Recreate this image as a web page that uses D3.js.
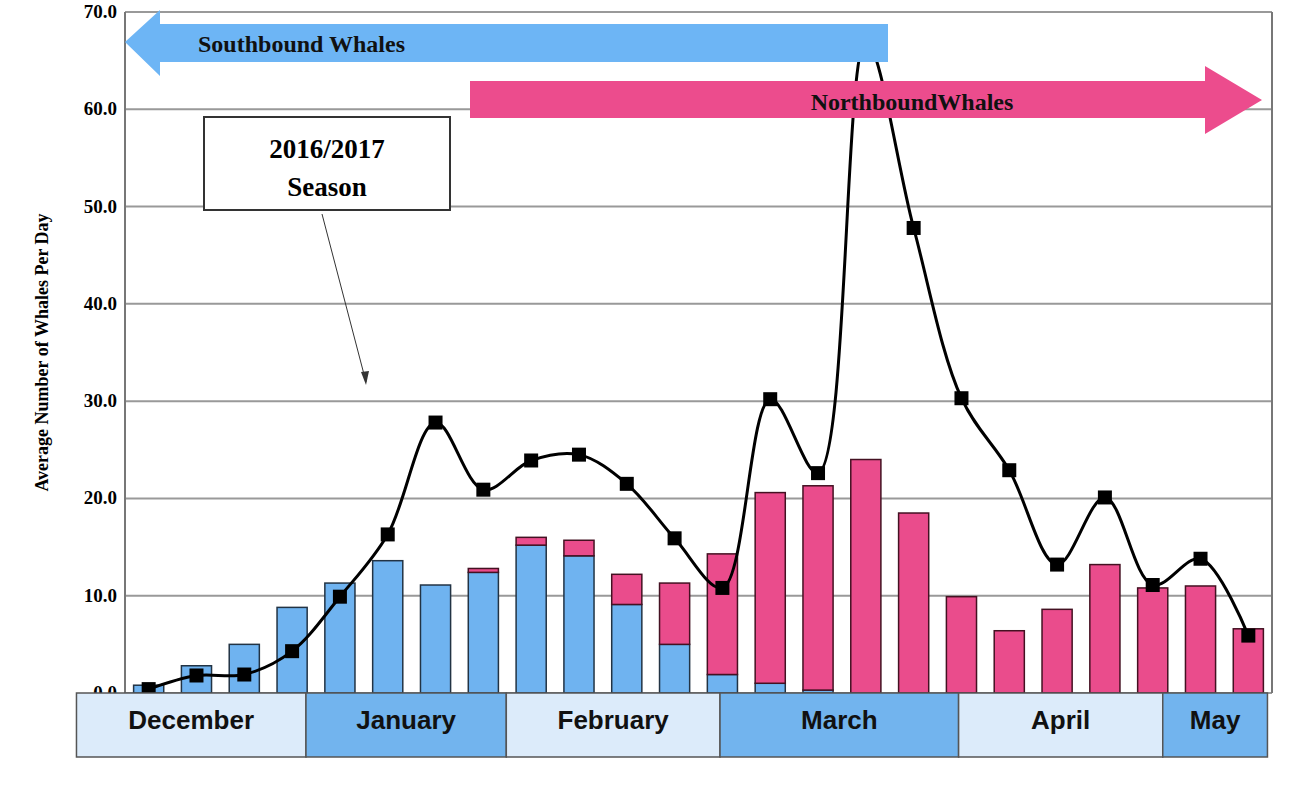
<!DOCTYPE html>
<html><head><meta charset="utf-8">
<script src="https://cdn.jsdelivr.net/npm/d3@7"></script>
<style>body{margin:0;background:#fff}</style>
</head><body>
<svg id="chart" width="1310" height="788"></svg>
<script>
// values
var southbound = [0.8, 2.8, 5.0, 8.8, 11.3, 13.6, 11.1, 12.4, 15.2, 14.1, 9.1, 5.0, 1.9, 1.0, 0.3, 0, 0, 0, 0, 0, 0, 0, 0, 0];
var northbound = [0, 0, 0, 0, 0, 0, 0, 0.4, 0.8, 1.6, 3.1, 6.3, 12.4, 19.6, 21.0, 24.0, 18.5, 9.9, 6.4, 8.6, 13.2, 10.8, 11.0, 6.6];
var season = [0.4, 1.8, 1.9, 4.3, 9.9, 16.3, 27.8, 20.9, 23.9, 24.5, 21.5, 15.9, 10.8, 30.2, 22.6, 67.0, 47.8, 30.3, 22.9, 13.2, 20.1, 11.1, 13.8, 5.9];
var months = ["December", "January", "February", "March", "April", "May"];
// month boundaries in bar-index units (bar centre = index)
var monthEdges = [-1.51, 3.29, 7.48, 11.95, 16.94, 21.21, 23.4];
var yTicks = [0, 10, 20, 30, 40, 50, 60, 70];

var svg = d3.select("#chart");
var pLeft = 125, pRight = 1272, pTop = 12, pBottom = 693;

var x = d3.scaleBand().domain(d3.range(season.length)).range([pLeft, pRight]).paddingInner(0.37).paddingOuter(0.18);
var y = d3.scaleLinear().domain([0, 70]).range([pBottom, pTop]);
var cx = i => x(i) + x.bandwidth() / 2;
var xm = d => cx(0) + d * x.step();

// grid
svg.append("g").selectAll("line").data(yTicks).join("line")
  .attr("x1", pLeft).attr("x2", pRight).attr("y1", d => y(d)).attr("y2", d => y(d))
  .attr("stroke", "#999").attr("stroke-width", 2);
svg.append("line").attr("x1", pLeft).attr("x2", pLeft).attr("y1", pTop).attr("y2", pBottom).attr("stroke", "#777").attr("stroke-width", 2);
svg.append("line").attr("x1", pRight).attr("x2", pRight).attr("y1", pTop).attr("y2", pBottom).attr("stroke", "#777").attr("stroke-width", 2);

svg.append("g").selectAll("text").data(yTicks).join("text")
  .attr("x", pLeft - 8).attr("y", d => y(d) + 6).attr("text-anchor", "end")
  .attr("font-family", "Liberation Serif").attr("font-weight", "bold").attr("font-size", 19)
  .text(d => d.toFixed(1));

svg.append("text").attr("transform", "translate(48," + (y(35)) + ") rotate(-90)")
  .attr("text-anchor", "middle").attr("font-family", "Liberation Serif").attr("font-weight", "bold").attr("font-size", 18)
  .text("Average Number of Whales Per Day");

// bars
var bars = svg.append("g");
bars.selectAll("rect.s").data(southbound).join("rect").attr("class", "s")
  .attr("x", (d, i) => x(i)).attr("width", x.bandwidth())
  .attr("y", d => y(d)).attr("height", d => pBottom - y(d))
  .attr("fill", "#6fb3f0").attr("stroke", "#234").attr("stroke-width", d => d > 0 ? 1.5 : 0);
bars.selectAll("rect.n").data(northbound).join("rect").attr("class", "n")
  .attr("x", (d, i) => x(i)).attr("width", x.bandwidth())
  .attr("y", (d, i) => y(d + southbound[i])).attr("height", d => pBottom - y(d))
  .attr("fill", "#ea4c8c").attr("stroke", "#412").attr("stroke-width", d => d > 0 ? 1.5 : 0);

// line
var line = d3.line().x((d, i) => cx(i)).y(d => y(d)).curve(d3.curveCatmullRom.alpha(0.5));
svg.append("path").datum(season).attr("d", line).attr("fill", "none").attr("stroke", "#000").attr("stroke-width", 3);
svg.append("g").selectAll("rect").data(season).join("rect")
  .attr("x", (d, i) => cx(i) - 7).attr("y", d => y(d) - 7)
  .attr("width", 14).attr("height", 14).attr("fill", "#000");

// arrows (drawn over the line peak)
svg.append("path").attr("fill", "#6db5f5")
  .attr("d", "M125,42 L160,10 L160,24 L888,24 L888,62 L160,62 L160,76 Z");
svg.append("text").attr("x", 198).attr("y", 52).attr("font-family", "Liberation Serif").attr("font-weight", "bold").attr("font-size", 24).attr("fill", "#111").text("Southbound Whales");
svg.append("path").attr("fill", "#ec4c8d")
  .attr("d", "M470,81 L1205,81 L1205,66 L1262,100 L1205,134 L1205,118 L470,118 Z");
svg.append("text").attr("x", 912).attr("y", 110).attr("text-anchor", "middle").attr("font-family", "Liberation Serif").attr("font-weight", "bold").attr("font-size", 24).attr("fill", "#111").text("NorthboundWhales");

// season label
svg.append("rect").attr("x", 204).attr("y", 117).attr("width", 246).attr("height", 93).attr("fill", "#fff").attr("stroke", "#333").attr("stroke-width", 2);
svg.append("text").attr("x", 327).attr("y", 158).attr("text-anchor", "middle").attr("font-family", "Liberation Serif").attr("font-weight", "bold").attr("font-size", 27).text("2016/2017");
svg.append("text").attr("x", 327).attr("y", 196).attr("text-anchor", "middle").attr("font-family", "Liberation Serif").attr("font-weight", "bold").attr("font-size", 27).text("Season");
svg.append("line").attr("x1", 322).attr("y1", 214).attr("x2", 366).attr("y2", 382).attr("stroke", "#333").attr("stroke-width", 1);
svg.append("path").attr("d", "M366,385 L361,372 L369,371 Z").attr("fill", "#333");

// month bands
var mb = svg.append("g");
mb.selectAll("rect").data(months).join("rect")
  .attr("x", (d, i) => xm(monthEdges[i])).attr("width", (d, i) => xm(monthEdges[i + 1]) - xm(monthEdges[i]))
  .attr("y", pBottom).attr("height", 64)
  .attr("fill", (d, i) => i % 2 ? "#72b4ee" : "#dcebfa").attr("stroke", "#555").attr("stroke-width", 1.5);
mb.selectAll("text").data(months).join("text")
  .attr("x", (d, i) => (xm(monthEdges[i]) + xm(monthEdges[i + 1])) / 2).attr("y", pBottom + 36)
  .attr("text-anchor", "middle").attr("font-family", "Liberation Sans").attr("font-weight", "bold").attr("font-size", 26)
  .attr("fill", "#111").text(d => d);
</script>
</body></html>
